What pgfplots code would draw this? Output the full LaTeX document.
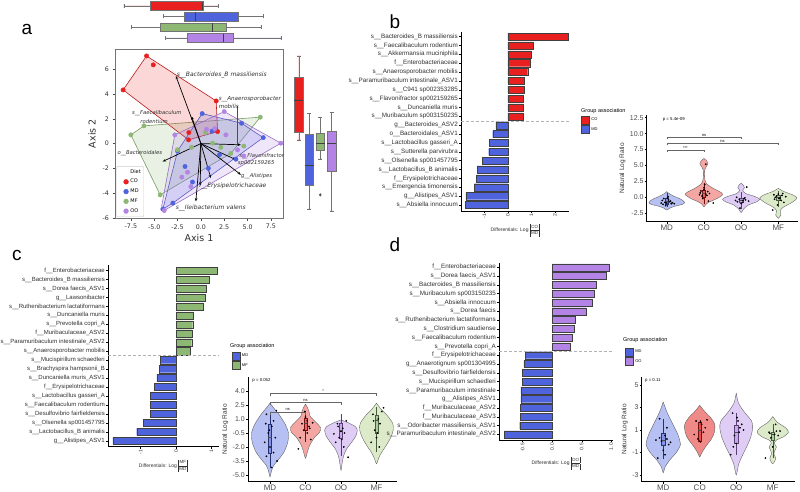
\documentclass[border=0pt]{standalone}
\usepackage{pgfplots}
\pgfplotsset{compat=1.18}
\usepgfplotslibrary{statistics}
\usetikzlibrary{arrows.meta}
\usepackage{fontspec}
\setmainfont{Liberation Sans}
\newfontfamily\djv{DejaVu Sans}
\definecolor{cCO}{HTML}{E8201F}
\definecolor{cMD}{HTML}{4F63DD}
\definecolor{cMF}{HTML}{8DB874}
\definecolor{cOO}{HTML}{B383E6}
\definecolor{vCO}{HTML}{F4A6A3}
\definecolor{vCOd}{HTML}{F08A88}
\definecolor{vMD}{HTML}{B7C0F3}
\definecolor{vMF}{HTML}{DCEAC9}
\definecolor{vOO}{HTML}{DFCDF6}
\definecolor{txt}{HTML}{303030}
\definecolor{tk}{HTML}{4D4D4D}
\newcommand\fs[1]{\fontsize{#1}{#1}\selectfont}
\newcommand\U{\_\_}
\pgfplotsset{
  barax/.style={scale only axis, anchor=south west, axis lines=left, axis line style={-,black,line width=0.5pt},
    clip=false, ytick={1,...,20}, tick align=outside, major tick length=2pt,
    tick style={black,line width=0.4pt},
    yticklabel style={font=\fs{6.3}, text=txt, inner sep=1pt},
    xticklabel style={font=\fs{5}, text=txt, rotate=90, anchor=east, inner sep=1pt},
    /pgf/number format/assume math mode=true,
    xlabel style={font=\fs{5}, text=txt, inner sep=1pt, yshift=-3pt},
    legend style={draw=none, fill=none, font=\fs{4}, inner sep=0pt, outer sep=0pt, row sep=1pt, legend cell align=left, anchor=north west},
    legend image code/.code={\draw[##1] (0pt,-4pt) rectangle (8pt,4pt);},
  },
  bars/.style={xbar, bar width=0.8, bar shift=0pt, draw=black!75, line width=0.3pt},
  violax/.style={scale only axis, anchor=south west, axis lines=left, axis line style={-,black,line width=0.5pt},
    clip=false, xtick={1,2,3,4}, xticklabels={MD,CO,OO,MF}, tick align=outside, major tick length=2pt,
    tick style={black, line width=0.4pt},
    xticklabel style={font=\fs{8}, text=tk, inner sep=1pt},
    yticklabel style={font=\fs{7}, text=tk, inner sep=1pt},
    /pgf/number format/assume math mode=true,
    ylabel={Natural Log Ratio}, ylabel style={font=\fs{6.5}, text=txt},
    boxplot/draw direction=y,
    boxplot/every median/.style={black!70, line width=0.4pt},
  },
  viol/.style={draw=black!65, line width=0.35pt, smooth, tension=0.45},
  pts/.style={only marks, mark=*, mark size=0.65pt, black},
  brk/.style={black!60, line width=0.35pt},
  ibox/.style={line width=0.3pt},
}
\newcommand\frc[2]{{\fontsize{4.5}{6.2}\selectfont\renewcommand\arraystretch{1}\setlength\tabcolsep{1.2pt}\setlength\arrayrulewidth{0.3pt}\begin{tabular}{|c|}#1\\\hline #2\end{tabular}}}
\begin{document}
\begin{tikzpicture}[x=1pt,y=1pt]
\path[use as bounding box] (0,0) rectangle (800,491);

% ---------------- panel letters ----------------
\node[font=\fs{19}] at (27,462) {a};
\node[font=\fs{19}] at (395,469) {b};
\node[font=\fs{19}] at (17,236) {c};
\node[font=\fs{19}] at (395,246) {d};

% ---------------- panel a: scatter ----------------
\begin{axis}[scale only axis, anchor=south west, at={(115pt,272.7pt)}, width=168pt, height=169.3pt,
  xmin=-9.2, xmax=8.8, ymin=-6.03, ymax=7.63, clip=false,
  axis line style={black!55, line width=0.5pt},
  tick pos=left, tick align=outside, major tick length=2.5pt, tick style={black!70, line width=0.4pt},
  xtick={-7.5,-5,-2.5,0,2.5,5,7.5}, ytick={-6,-4,-2,0,2,4,6},
  xticklabel={\pgfmathprintnumber[fixed,fixed zerofill,precision=1]{\tick}},
  /pgf/number format/assume math mode=true,
  ticklabel style={font=\djv\fs{6.3}, text=txt},
  xlabel={Axis 1}, ylabel={Axis 2}, label style={font=\djv\fs{9.5}, text=txt},
  xlabel style={yshift=2pt},
  legend style={at={(axis description cs:0.008,0.008)}, anchor=south west, font=\djv\fs{5}, draw=black!20, rounded corners=1pt, inner sep=1pt, row sep=0.6pt, legend cell align=left},
]
\addlegendimage{empty legend}\addlegendentry{Diet}
\addlegendimage{only marks, mark=*, mark size=2.4pt, cCO}\addlegendentry{CO}
\addlegendimage{only marks, mark=*, mark size=2.4pt, cMD}\addlegendentry{MD}
\addlegendimage{only marks, mark=*, mark size=2.4pt, cMF}\addlegendentry{MF}
\addlegendimage{only marks, mark=*, mark size=2.4pt, cOO}\addlegendentry{OO}
% hulls
\addplot[fill=cMF, fill opacity=0.2, draw=cMF!85!black, line width=0.6pt] coordinates {(-7.5,0.7) (-6.1,1.43) (6.36,2.13) (3.2,-0.8) (-4.36,-4.14) (-7.5,0.7)};
\addplot[fill=cCO, fill opacity=0.18, draw=cCO!80!black, line width=0.6pt] coordinates {(-8.33,4.33) (-5.82,7.07) (1.64,3.44) (1.79,0.97) (-1.32,0.3) (-8.33,4.33)};
\addplot[fill=cMD, fill opacity=0.18, draw=cMD!85!black, line width=0.6pt] coordinates {(0.14,2.42) (4.36,1.64) (6.68,0.48) (-3.0,-4.8) (-4.07,-5.29) (-2.5,-0.6) (0.14,2.42)};
\addplot[fill=cOO, fill opacity=0.2, draw=cOO!85!black, line width=0.6pt] coordinates {(-2.79,0.7) (2.5,2.58) (8.57,0.03) (-3.93,-5.4) (-4.2,-5.05) (-2.79,0.7)};
% points
\addplot[only marks, mark=*, mark size=2.2pt, cCO] coordinates {(-5.82,7.07) (-5.1,6.35) (-8.33,4.33) (1.64,3.44) (1.79,0.97) (-1.29,0.89) (-1.32,0.3)};
\addplot[only marks, mark=*, mark size=2.2pt, cMD] coordinates {(0.14,2.42) (4.36,1.64) (6.68,0.48) (3.75,-1.26) (-4.07,-5.29) (-3.0,-4.8) (-2.5,-0.6) (-1.7,-1.85) (-0.9,-3.1) (0.8,-2.0) (2.0,-0.9) (1.2,1.0)};
\addplot[only marks, mark=*, mark size=2.2pt, cMF] coordinates {(-7.5,0.7) (-6.1,1.43) (6.36,2.13) (3.2,-0.8) (-4.36,-4.14) (2.14,-0.3) (1.25,0.03) (-2.5,-0.5) (4.6,-0.2) (0.5,0.9) (-1.0,-0.3)};
\addplot[only marks, mark=*, mark size=2.2pt, cOO] coordinates {(2.5,2.58) (8.57,0.03) (-3.93,-5.4) (-2.79,0.7) (0.61,1.16) (2.68,0.7) (3.93,-0.51) (-1.43,-2.31) (-2.04,-2.71) (-1.07,-3.47) (4.6,-1.0) (1.5,1.2)};
% loadings
\addplot[black, line width=0.7pt, -{Stealth[length=3.5pt]}] coordinates {(0,0) (-2.68,5.46)};
\addplot[black, line width=0.7pt, -{Stealth[length=3.5pt]}] coordinates {(0,0) (4.29,-0.1)};
\addplot[black, line width=0.7pt, -{Stealth[length=3.5pt]}] coordinates {(0,0) (-1.0,2.2)};
\addplot[black, line width=0.7pt, -{Stealth[length=3.5pt]}] coordinates {(0,0) (-4.1,-1.45)};
\addplot[black, line width=0.7pt, -{Stealth[length=3.5pt]}] coordinates {(0,0) (3.75,-1.3)};
\addplot[black, line width=0.7pt, -{Stealth[length=3.5pt]}] coordinates {(0,0) (4.29,-2.52)};
\addplot[black, line width=0.7pt, -{Stealth[length=3.5pt]}] coordinates {(0,0) (1.07,-2.79)};
\addplot[black, line width=0.7pt, -{Stealth[length=3.5pt]}] coordinates {(0,0) (-0.07,-3.4)};
\addplot[black, line width=0.7pt, -{Stealth[length=3.5pt]}] coordinates {(0,0) (-0.54,-4.67)};
\addplot[black!70, line width=0.4pt] coordinates {(3.93,3.0) (3.93,0)};
% labels
\node[anchor=west, font=\djv\itshape\fs{6}, text=txt, inner sep=0pt] at (axis cs:-2.6,5.55) {s\U Bacteroides\_B massiliensis};
\node[anchor=west, font=\djv\itshape\fs{5.6}, text=txt, inner sep=0pt] at (axis cs:1.9,3.6) {s\U Anaerosporobacter};
\node[anchor=west, font=\djv\itshape\fs{5.6}, text=txt, inner sep=0pt] at (axis cs:1.9,3.0) {mobilis};
\node[anchor=west, font=\djv\itshape\fs{5.3}, text=txt, inner sep=0pt] at (axis cs:-7.4,2.45) {s\U Faecalibaculum};
\node[anchor=west, font=\djv\itshape\fs{5.3}, text=txt, inner sep=0pt] at (axis cs:-6.5,1.75) {rodentium};
\node[anchor=west, font=\djv\itshape\fs{5.3}, text=txt, inner sep=0pt] at (axis cs:-8.95,-0.78) {o\U Bacteroidales};
\node[anchor=west, font=\djv\itshape\fs{5.3}, text=txt, inner sep=0pt] at (axis cs:4.1,-1.0) {s\U Flavonifractor};
\node[anchor=west, font=\djv\itshape\fs{5.3}, text=txt, inner sep=0pt] at (axis cs:3.95,-1.6) {sp002159265};
\node[anchor=west, font=\djv\itshape\fs{5.3}, text=txt, inner sep=0pt] at (axis cs:4.3,-2.66) {g\U Alistipes};
\node[anchor=west, font=\djv\itshape\fs{6}, text=txt, inner sep=0pt] at (axis cs:-0.2,-3.4) {f\U Erysipelotrichaceae};
\node[anchor=west, font=\djv\itshape\fs{6}, text=txt, inner sep=0pt] at (axis cs:-2.7,-5.2) {s\U Ileibacterium valens};
\end{axis}

% top boxplots
\begin{axis}[scale only axis, anchor=south west, at={(115pt,448pt)}, width=168pt, height=43pt,
  xmin=-9.2, xmax=8.8, ymin=0, ymax=43, hide axis, clip=false, boxplot/draw direction=x,
  boxplot/every median/.style={black!75, line width=0.5pt}]
\addplot[boxplot prepared={draw position=37.1, lower whisker=-8.25, lower quartile=-5.47, median=0.2, upper quartile=0.25, upper whisker=1.85, box extend=8.5, whisker extend=4}, fill=cCO, draw=black!55, line width=0.4pt] coordinates {};
\addplot[boxplot prepared={draw position=26.5, lower whisker=-4.04, lower quartile=-1.82, median=-0.61, upper quartile=3.96, upper whisker=6.72, box extend=8.5, whisker extend=4}, fill=cMD, draw=black!55, line width=0.4pt] coordinates {};
\addplot[boxplot prepared={draw position=15.7, lower whisker=-7.43, lower quartile=-4.36, median=1.25, upper quartile=2.71, upper whisker=6.43, box extend=8.5, whisker extend=4}, fill=cMF, draw=black!55, line width=0.4pt] coordinates {};
\addplot[boxplot prepared={draw position=5.2, lower whisker=-3.82, lower quartile=-1.47, median=2.43, upper quartile=3.46, upper whisker=8.57, box extend=8.5, whisker extend=4}, fill=cOO, draw=black!55, line width=0.4pt] coordinates {};
\end{axis}

% right boxplots
\begin{axis}[scale only axis, anchor=south west, at={(290pt,272.7pt)}, width=50pt, height=169.3pt,
  xmin=0, xmax=50, ymin=-6.03, ymax=7.63, hide axis, clip=false, boxplot/draw direction=y,
  boxplot/every median/.style={black!75, line width=0.5pt}]
\addplot[boxplot prepared={draw position=8.8, lower whisker=0.3, lower quartile=0.92, median=3.52, upper quartile=5.32, upper whisker=7.07, box extend=8.7, whisker extend=4}, fill=cCO, draw=black!55, line width=0.4pt] coordinates {};
\addplot[boxplot prepared={draw position=19.3, lower whisker=-5.27, lower quartile=-3.39, median=-1.77, upper quartile=0.76, upper whisker=2.45, box extend=8.7, whisker extend=4}, fill=cMD, draw=black!55, line width=0.4pt] coordinates {};
\addplot[boxplot prepared={draw position=30.3, lower whisker=-1.23, lower quartile=-0.51, median=0.03, upper quartile=0.84, upper whisker=2.13, box extend=8.7, whisker extend=4}, fill=cMF, draw=black!55, line width=0.4pt] coordinates {};
\addplot[boxplot prepared={draw position=41.5, lower whisker=-5.43, lower quartile=-2.2, median=0.03, upper quartile=1.02, upper whisker=2.53, box extend=8.7, whisker extend=4}, fill=cOO, draw=black!55, line width=0.4pt] coordinates {};
\addplot[only marks, mark=diamond*, mark size=1.3pt, black!70] coordinates {(30.3,-4.14)};
\end{axis}

% ---------------- panel b: bars ----------------
\begin{axis}[barax, at={(461pt,280pt)}, width=108pt, height=179pt,
  xmin=-2.0, xmax=2.6, ymin=0.32, ymax=20.52, xtick={-1,0,1,2},
  yticklabels={s\U Absiella innocuum, g\U Alistipes\_ASV1, s\U Emergencia timonensis, f\U Erysipelotrichaceae, s\U Lactobacillus\_B animalis, s\U Olsenella sp001457795, s\U Sutterella parvirubra, s\U Lactobacillus gasseri\_A, o\U Bacteroidales\_ASV1, g\U Bacteroides\_ASV2, s\U Muribaculum sp003150235, s\U Duncaniella muris, s\U Flavonifractor sp002159265, s\U C941 sp002353285, s\U Paramuribaculum intestinale\_ASV1, s\U Anaerosporobacter mobilis, f\U Enterobacteriaceae, s\U Akkermansia muciniphila, s\U Faecalibaculum rodentium, s\U Bacteroides\_B massiliensis},
  xlabel={Differentials: Log \frc{CO}{MD}},
  legend style={at={(1.111,0.531)}}]
\addlegendimage{fill=cCO, draw=black!75}\addlegendentry{CO}
\addlegendimage{fill=cMD, draw=black!75}\addlegendentry{MD}
\addplot[bars, fill=cCO] coordinates {(2.55,20) (1.06,19) (1.0,18) (0.94,17) (0.84,16) (0.68,15) (0.68,14) (0.65,13) (0.65,12) (0.65,11)};
\addplot[bars, fill=cMD] coordinates {(-0.52,10) (-0.65,9) (-0.8,8) (-0.82,7) (-1.08,6) (-1.31,5) (-1.36,4) (-1.43,3) (-1.79,2) (-1.82,1)};
\addplot[densely dashed, black!30, line width=0.4pt] coordinates {(-2.0,10.5) (2.6,10.5)};
\end{axis}
\node[anchor=west, font=\fs{5.5}, inner sep=0pt] at (581,379.5) {Group association};

% ---------------- panel b: violin ----------------
\begin{axis}[violax, at={(646.7pt,269.3pt)}, width=151.3pt, height=106.7pt,
  xmin=0.46, xmax=4.53, ymin=-3.83, ymax=12.92,
  ytick={-2.5,0,2.5,5,7.5,10,12.5},
  yticklabel={\pgfmathprintnumber[fixed,fixed zerofill,precision=1]{\tick}}]
\addplot[viol, fill=vMD] table[row sep=\\, x expr=1+\thisrow{w}, y=y] {y w\\0.9 0\\0.6 0.06\\0.2 0.18\\-0.3 0.38\\-0.8 0.48\\-1.1 0.42\\-1.4 0.22\\-1.7 0.08\\-2.0 0\\-1.7 -0.08\\-1.4 -0.22\\-1.1 -0.42\\-0.8 -0.48\\-0.3 -0.38\\0.2 -0.18\\0.6 -0.06\\0.9 0\\};
\addplot[viol, fill=vCO] table[row sep=\\, x expr=2+\thisrow{w}, y=y] {y w\\6.1 0\\5.8 0.06\\5.3 0.11\\4.8 0.06\\4.3 0.02\\3.0 0.02\\2.2 0.06\\1.5 0.22\\0.8 0.45\\0.4 0.5\\-0.2 0.35\\-0.8 0.12\\-1.2 0.04\\-1.5 0\\-1.2 -0.04\\-0.8 -0.12\\-0.2 -0.35\\0.4 -0.5\\0.8 -0.45\\1.5 -0.22\\2.2 -0.06\\3.0 -0.02\\4.3 -0.02\\4.8 -0.06\\5.3 -0.11\\5.8 -0.06\\6.1 0\\};
\addplot[viol, fill=vOO] table[row sep=\\, x expr=3+\thisrow{w}, y=y] {y w\\2.2 0\\1.9 0.06\\1.5 0.09\\1.1 0.04\\0.6 0.12\\0.1 0.38\\-0.3 0.5\\-0.7 0.42\\-1.2 0.2\\-1.8 0.07\\-2.4 0\\-1.8 -0.07\\-1.2 -0.2\\-0.7 -0.42\\-0.3 -0.5\\0.1 -0.38\\0.6 -0.12\\1.1 -0.04\\1.5 -0.09\\1.9 -0.06\\2.2 0\\};
\addplot[viol, fill=vMF] table[row sep=\\, x expr=4+\thisrow{w}, y=y] {y w\\1.4 0\\0.9 0.15\\0.4 0.38\\-0.1 0.5\\-0.6 0.42\\-1.1 0.28\\-1.6 0.12\\-2.1 0.05\\-2.5 0.06\\-2.8 0.07\\-3.1 0.03\\-3.3 0\\-3.1 -0.03\\-2.8 -0.07\\-2.5 -0.06\\-2.1 -0.05\\-1.6 -0.12\\-1.1 -0.28\\-0.6 -0.42\\-0.1 -0.5\\0.4 -0.38\\0.9 -0.15\\1.4 0\\};
\addplot[ibox, boxplot prepared={draw position=1, lower whisker=-1.6, lower quartile=-1.0, median=-0.6, upper quartile=-0.2, upper whisker=0.6, box extend=0.09, whisker extend=0}, fill=cMD!70, draw=cMD!50!black] coordinates {};
\addplot[ibox, boxplot prepared={draw position=2, lower whisker=-1.0, lower quartile=0.1, median=0.6, upper quartile=1.1, upper whisker=2.3, box extend=0.09, whisker extend=0}, fill=cCO!70, draw=cCO!50!black] coordinates {};
\addplot[ibox, boxplot prepared={draw position=3, lower whisker=-1.8, lower quartile=-0.8, median=-0.4, upper quartile=-0.1, upper whisker=0.8, box extend=0.09, whisker extend=0}, fill=cOO!70, draw=cOO!50!black] coordinates {};
\addplot[ibox, boxplot prepared={draw position=4, lower whisker=-1.6, lower quartile=-0.4, median=0.0, upper quartile=0.3, upper whisker=1.0, box extend=0.09, whisker extend=0}, fill=cMF!70, draw=cMF!50!black] coordinates {};
\addplot[pts] coordinates {(0.92,-0.2) (1.05,-0.4) (1.1,-0.6) (0.95,-0.8) (1.0,-0.9) (1.12,-1.0) (0.88,-0.5) (1.02,-0.1) (1.08,-0.7) (0.9,-1.1) (1.15,-0.85) (0.97,-1.3) (1.2,-1.0) (0.85,-0.9) (1.04,0.1)};
\addplot[pts] coordinates {(1.95,0.2) (2.05,0.5) (2.1,0.9) (1.9,0.7) (2.0,1.2) (2.08,0.3) (1.92,1.0) (2.15,0.6) (2.02,2.0) (1.97,-0.2) (2.12,-0.6) (2.05,5.2) (2.25,-0.9) (1.88,0.4) (2.0,1.5)};
\addplot[pts] coordinates {(2.95,-0.3) (3.05,-0.5) (3.1,-0.1) (2.9,-0.7) (3.0,-1.0) (3.12,-0.4) (2.88,0.0) (3.04,-0.8) (3.15,1.6) (2.97,-1.7) (3.08,-0.2) (2.85,-0.5) (3.2,-0.6)};
\addplot[pts] coordinates {(3.95,0.2) (4.05,-0.1) (4.1,0.3) (3.9,-0.3) (4.0,0.5) (4.08,-0.5) (3.92,0.0) (4.15,-0.8) (4.02,-0.2) (3.85,-2.0) (4.12,0.6) (3.98,-1.2) (4.2,0.1) (3.88,0.4)};
\addplot[brk] coordinates {(1,9.1) (1,9.46) (3,9.46) (3,9.1)};
\addplot[brk] coordinates {(1,8.15) (1,8.5) (4,8.5) (4,8.15)};
\addplot[brk] coordinates {(1,7.05) (1,7.4) (2,7.4) (2,7.05)};
\node[font=\fs{4}, above, inner sep=0.8pt] at (axis cs:2,9.46) {ns};
\node[font=\fs{4}, above, inner sep=0.8pt] at (axis cs:2.5,8.5) {ns};
\node[font=\fs{4}, above, inner sep=0.8pt] at (axis cs:1.5,7.4) {***};
\node[font=\fs{4.3}, anchor=west, inner sep=0pt] at (axis cs:0.89,12.3) {p = 5.4e-09};
\end{axis}

% ---------------- panel c: bars ----------------
\begin{axis}[barax, at={(108pt,44.3pt)}, width=110.6pt, height=181.7pt,
  xmin=-1.92, xmax=1.2, ymin=0.33, ymax=20.63, xtick={-1,0,1},
  yticklabel style={font=\fs{6}},
  yticklabels={g\U Alistipes\_ASV1, s\U Lactobacillus\_B animalis, s\U Olsenella sp001457795, s\U Desulfovibrio fairfieldensis, s\U Faecalibaculum rodentium, s\U Lactobacillus gasseri\_A, f\U Erysipelotrichaceae, s\U Duncaniella muris\_ASV1, s\U Brachyspira hampsonii\_B, s\U Mucispirillum schaedleri, s\U Anaerosporobacter mobilis, s\U Paramuribaculum intestinale\_ASV2, f\U Muribaculaceae\_ASV2, s\U Prevotella copri\_A, s\U Duncaniella muris, s\U Ruthenibacterium lactatiformans, g\U Lawsonibacter, s\U Dorea faecis\_ASV1, s\U Bacteroides\_B massiliensis, f\U Enterobacteriaceae},
  xlabel={Differentials: Log \frc{MF}{MD}},
  legend style={at={(1.117,0.521)}}]
\addlegendimage{fill=cMD, draw=black!75}\addlegendentry{MD}
\addlegendimage{fill=cMF, draw=black!75}\addlegendentry{MF}
\addplot[bars, fill=cMF] coordinates {(1.15,20) (0.94,19) (0.86,18) (0.82,17) (0.77,16) (0.49,15) (0.47,14) (0.45,13) (0.44,12) (0.41,11)};
\addplot[bars, fill=cMD] coordinates {(-0.45,10) (-0.48,9) (-0.54,8) (-0.61,7) (-0.72,6) (-0.72,5) (-0.72,4) (-0.92,3) (-1.11,2) (-1.78,1)};
\addplot[densely dashed, black!30, line width=0.4pt] coordinates {(-1.92,10.5) (1.2,10.5)};
\end{axis}
\node[anchor=west, font=\fs{5.5}, inner sep=0pt] at (230,145) {Group association};

% ---------------- panel c: violin ----------------
\begin{axis}[violax, at={(248pt,9.3pt)}, width=148.7pt, height=104.7pt,
  xmin=0.38, xmax=4.57, ymin=-5.72, ymax=5.5,
  ytick={-5,-3.5,-2,-0.5,1,2.5,4},
  yticklabel={\pgfmathprintnumber[fixed,fixed zerofill,precision=1]{\tick}}]
\addplot[viol, fill=vMD] table[row sep=\\, x expr=1+\thisrow{w}, y=y] {y w\\2.7 0\\2.2 0.1\\1.5 0.25\\0.5 0.42\\-0.5 0.52\\-1.5 0.5\\-2.5 0.4\\-3.3 0.25\\-4.0 0.1\\-4.6 0.04\\-5.2 0\\-4.6 -0.04\\-4.0 -0.1\\-3.3 -0.25\\-2.5 -0.4\\-1.5 -0.5\\-0.5 -0.52\\0.5 -0.42\\1.5 -0.25\\2.2 -0.1\\2.7 0\\};
\addplot[viol, fill=vCO] table[row sep=\\, x expr=2+\thisrow{w}, y=y] {y w\\2.6 0\\2.2 0.06\\1.8 0.1\\1.3 0.13\\0.7 0.28\\0.1 0.42\\-0.4 0.4\\-1.0 0.25\\-1.8 0.12\\-2.6 0.05\\-3.2 0\\-2.6 -0.05\\-1.8 -0.12\\-1.0 -0.25\\-0.4 -0.4\\0.1 -0.42\\0.7 -0.28\\1.3 -0.13\\1.8 -0.1\\2.2 -0.06\\2.6 0\\};
\addplot[viol, fill=vOO] table[row sep=\\, x expr=3+\thisrow{w}, y=y] {y w\\0.9 0\\0.6 0.2\\0.2 0.4\\-0.2 0.46\\-0.8 0.42\\-1.5 0.3\\-2.2 0.16\\-3.0 0.07\\-3.8 0.03\\-4.5 0\\-3.8 -0.03\\-3.0 -0.07\\-2.2 -0.16\\-1.5 -0.3\\-0.8 -0.42\\-0.2 -0.46\\0.2 -0.4\\0.6 -0.2\\0.9 0\\};
\addplot[viol, fill=vMF] table[row sep=\\, x expr=4+\thisrow{w}, y=y] {y w\\2.7 0\\2.1 0.12\\1.3 0.32\\0.5 0.46\\-0.2 0.47\\-1.0 0.4\\-1.8 0.28\\-2.6 0.14\\-3.2 0.06\\-3.8 0\\-3.2 -0.06\\-2.6 -0.14\\-1.8 -0.28\\-1.0 -0.4\\-0.2 -0.47\\0.5 -0.46\\1.3 -0.32\\2.1 -0.12\\2.7 0\\};
\addplot[ibox, boxplot prepared={draw position=1, lower whisker=-4.3, lower quartile=-2.7, median=-1.0, upper quartile=0.5, upper whisker=1.8, box extend=0.09, whisker extend=0}, fill=cMD!70, draw=cMD!50!black] coordinates {};
\addplot[ibox, boxplot prepared={draw position=2, lower whisker=-1.5, lower quartile=-0.2, median=0.5, upper quartile=1.07, upper whisker=1.9, box extend=0.09, whisker extend=0}, fill=cCO!70, draw=cCO!50!black] coordinates {};
\addplot[ibox, boxplot prepared={draw position=3, lower whisker=-3.0, lower quartile=-1.07, median=-0.3, upper quartile=0.54, upper whisker=1.5, box extend=0.09, whisker extend=0}, fill=cOO!70, draw=cOO!50!black] coordinates {};
\addplot[ibox, boxplot prepared={draw position=4, lower whisker=-2.5, lower quartile=-0.54, median=0.9, upper quartile=1.43, upper whisker=2.3, box extend=0.09, whisker extend=0}, fill=cMF!70, draw=cMF!50!black] coordinates {};
\addplot[pts] coordinates {(0.9,1.5) (1.1,0.8) (1.05,0.2) (0.95,-0.5) (1.15,-1.0) (0.85,-1.5) (1.0,-2.0) (1.1,-2.6) (0.9,-3.0) (1.2,-3.5) (1.05,-4.2) (0.88,0.5) (1.18,1.9) (0.98,-0.2)};
\addplot[pts] coordinates {(1.9,0.5) (2.05,0.8) (2.1,0.2) (1.95,-0.2) (2.0,1.2) (2.12,0.0) (2.2,0.6) (1.85,-1.0) (2.05,-0.5) (1.98,1.8) (1.8,-2.2) (2.15,-1.2)};
\addplot[pts] coordinates {(2.9,0.5) (3.05,0.0) (3.1,-0.5) (2.95,-1.0) (3.0,-0.3) (3.15,0.8) (2.85,-1.5) (3.08,-2.0) (2.92,0.2) (3.2,-3.1) (3.02,-1.2) (2.8,-0.6)};
\addplot[pts] coordinates {(3.9,1.5) (4.05,1.0) (4.1,0.5) (3.95,-0.2) (4.0,-1.0) (4.15,1.8) (3.85,-1.5) (4.08,-2.0) (3.92,0.8) (4.2,2.2) (4.02,-0.5)};
\addplot[brk] coordinates {(1,3.45) (1,3.75) (4,3.75) (4,3.45)};
\addplot[brk] coordinates {(1,2.45) (1,2.75) (3,2.75) (3,2.45)};
\addplot[brk] coordinates {(1,1.48) (1,1.78) (2,1.78) (2,1.48)};
\node[font=\fs{4}, above, inner sep=0.8pt] at (axis cs:2.5,3.75) {*};
\node[font=\fs{4}, above, inner sep=0.8pt] at (axis cs:2,2.75) {ns};
\node[font=\fs{4}, above, inner sep=0.8pt] at (axis cs:1.5,1.78) {ns};
\node[font=\fs{4.3}, anchor=west, inner sep=0pt] at (axis cs:0.5,5.18) {p = 0.052};
\end{axis}

% ---------------- panel d: bars ----------------
\begin{axis}[barax, at={(499pt,51pt)}, width=114pt, height=177pt,
  xmin=-0.9, xmax=1.03, ymin=0.35, ymax=20.49, xtick={-0.5,0,0.5,1},
  xticklabel={\pgfmathprintnumber[fixed,fixed zerofill,precision=1]{\tick}},
  yticklabels={s\U Paramuribaculum intestinale\_ASV2, s\U Odoribacter massiliensis\_ASV1, f\U Muribaculaceae\_ASV3, f\U Muribaculaceae\_ASV2, g\U Alistipes\_ASV1, s\U Paramuribaculum intestinale, s\U Mucispirillum schaedleri, s\U Desulfovibrio fairfieldensis, g\U Anaerotignum sp001304995, f\U Erysipelotrichaceae, s\U Prevotella copri\_A, s\U Faecalibaculum rodentium, s\U Clostridium saudiense, s\U Ruthenibacterium lactatiformans, s\U Dorea faecis, s\U Absiella innocuum, s\U Muribaculum sp003150235, s\U Bacteroides\_B massiliensis, s\U Dorea faecis\_ASV1, f\U Enterobacteriaceae},
  xlabel={Differentials: Log \frc{OO}{MD}},
  legend style={at={(1.105,0.52)}}]
\addlegendimage{fill=cMD, draw=black!75}\addlegendentry{MD}
\addlegendimage{fill=cOO, draw=black!75}\addlegendentry{OO}
\addplot[bars, fill=cOO] coordinates {(0.96,20) (0.92,19) (0.75,18) (0.71,17) (0.68,16) (0.57,15) (0.39,14) (0.37,13) (0.34,12) (0.31,11)};
\addplot[bars, fill=cMD] coordinates {(-0.45,10) (-0.48,9) (-0.51,8) (-0.51,7) (-0.53,6) (-0.53,5) (-0.54,4) (-0.54,3) (-0.55,2) (-0.81,1)};
\addplot[densely dashed, black!30, line width=0.4pt] coordinates {(-0.9,10.5) (1.03,10.5)};
\end{axis}
\node[anchor=west, font=\fs{5.5}, inner sep=0pt] at (623,151) {Group association};

% ---------------- panel d: violin ----------------
\begin{axis}[violax, at={(641.7pt,9.3pt)}, width=153.3pt, height=104.7pt,
  xmin=0.41, xmax=4.61, ymin=-3.6, ymax=5.71,
  ytick={-3,-1,1,3,5}]
\addplot[viol, fill=vMD] table[row sep=\\, x expr=1+\thisrow{w}, y=y] {y w\\3.5 0\\2.6 0.1\\1.6 0.25\\0.6 0.4\\-0.3 0.47\\-1.0 0.36\\-1.7 0.17\\-2.3 0.05\\-2.8 0\\-2.3 -0.05\\-1.7 -0.17\\-1.0 -0.36\\-0.3 -0.47\\0.6 -0.4\\1.6 -0.25\\2.6 -0.1\\3.5 0\\};
\addplot[viol, fill=vCOd] table[row sep=\\, x expr=2+\thisrow{w}, y=y] {y w\\3.2 0\\2.7 0.12\\2.1 0.3\\1.5 0.41\\0.8 0.4\\0.2 0.32\\-0.4 0.18\\-1.0 0.06\\-1.4 0\\-1.0 -0.06\\-0.4 -0.18\\0.2 -0.32\\0.8 -0.4\\1.5 -0.41\\2.1 -0.3\\2.7 -0.12\\3.2 0\\};
\addplot[viol, fill=vOO] table[row sep=\\, x expr=3+\thisrow{w}, y=y] {y w\\4.3 0\\3.4 0.06\\2.6 0.22\\1.8 0.42\\1.2 0.45\\0.4 0.4\\-0.4 0.3\\-1.2 0.18\\-2.0 0.07\\-3.0 0\\-2.0 -0.07\\-1.2 -0.18\\-0.4 -0.3\\0.4 -0.4\\1.2 -0.45\\1.8 -0.42\\2.6 -0.22\\3.4 -0.06\\4.3 0\\};
\addplot[viol, fill=vMF] table[row sep=\\, x expr=4+\thisrow{w}, y=y] {y w\\2.2 0\\1.7 0.12\\1.2 0.35\\0.8 0.43\\0.4 0.3\\0.1 0.1\\-0.2 0.04\\-0.5 0.1\\-0.8 0.06\\-1.1 0.03\\-1.5 0.08\\-1.8 0.05\\-2.0 0\\-1.8 -0.05\\-1.5 -0.08\\-1.1 -0.03\\-0.8 -0.06\\-0.5 -0.1\\-0.2 -0.04\\0.1 -0.1\\0.4 -0.3\\0.8 -0.43\\1.2 -0.35\\1.7 -0.12\\2.2 0\\};
\addplot[ibox, boxplot prepared={draw position=1, lower whisker=-1.6, lower quartile=-0.33, median=0.1, upper quartile=0.7, upper whisker=2.0, box extend=0.09, whisker extend=0}, fill=cMD!70, draw=cMD!50!black] coordinates {};
\addplot[ibox, boxplot prepared={draw position=2, lower whisker=-0.2, lower quartile=0.0, median=1.0, upper quartile=1.74, upper whisker=1.9, box extend=0.09, whisker extend=0}, fill=cCO!80, draw=cCO!50!black] coordinates {};
\addplot[ibox, boxplot prepared={draw position=3, lower whisker=-1.2, lower quartile=-0.18, median=0.8, upper quartile=1.44, upper whisker=2.5, box extend=0.09, whisker extend=0}, fill=cOO!70, draw=cOO!50!black] coordinates {};
\addplot[ibox, boxplot prepared={draw position=4, lower whisker=-1.5, lower quartile=0.1, median=0.6, upper quartile=0.85, upper whisker=1.5, box extend=0.09, whisker extend=0}, fill=cMF!70, draw=cMF!50!black] coordinates {};
\addplot[pts] coordinates {(0.9,2.0) (1.1,1.2) (1.05,0.5) (0.95,0.0) (1.15,-0.3) (0.85,-1.5) (1.0,-0.8) (1.1,0.2) (0.9,0.3) (1.2,-0.1) (1.05,-1.2) (0.8,0.1)};
\addplot[pts] coordinates {(1.9,1.8) (2.05,1.5) (2.1,0.8) (1.95,0.2) (2.0,0.0) (2.15,1.2) (1.85,0.6) (2.2,1.9) (2.02,1.7)};
\addplot[pts] coordinates {(2.9,2.5) (3.05,1.8) (3.1,1.2) (2.95,0.5) (3.0,-0.2) (3.15,1.5) (2.85,-1.2) (3.08,0.8) (2.92,-0.5) (3.2,1.0) (3.02,2.1)};
\addplot[pts] coordinates {(3.9,0.8) (4.05,0.6) (4.1,0.9) (3.95,0.3) (4.0,-0.5) (4.15,0.5) (3.8,-1.5) (4.08,1.5) (3.92,0.7) (4.2,0.9)};
\node[font=\fs{4.3}, anchor=west, inner sep=0pt] at (axis cs:0.5,5.38) {p = 0.11};
\end{axis}
\end{tikzpicture}
\end{document}
